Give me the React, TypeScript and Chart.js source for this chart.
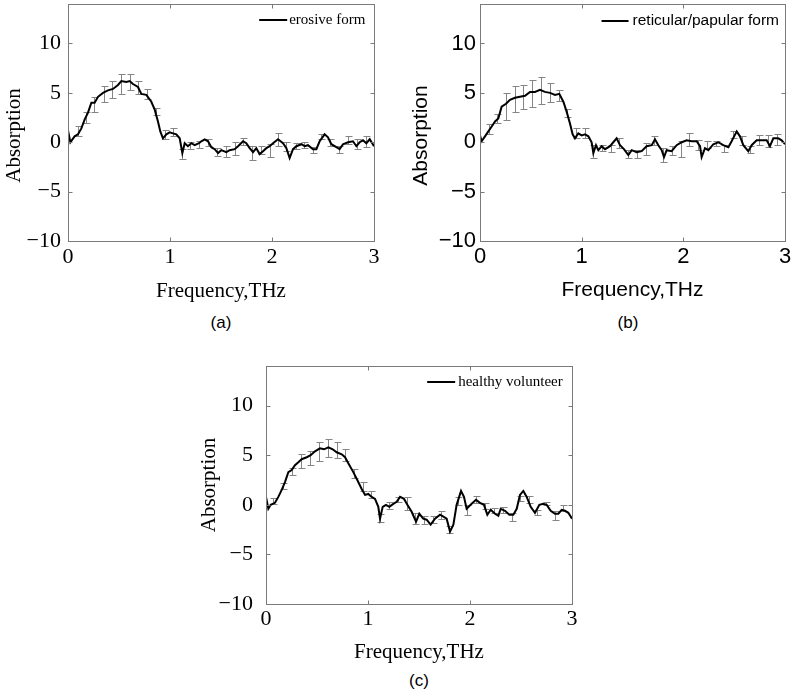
import React, { useEffect, useRef } from 'react';
import { Chart, registerables } from 'chart.js';
Chart.register(...registerables);

// ---------- shared axis data ----------
const xTicks = [0, 1, 2, 3];
const yTicks = [-10, -5, 0, 5, 10];
const xMin = 0, xMax = 3, yMin = -10, yMax = 14;
const xTitle = 'Frequency,THz';
const yTitle = 'Absorption';

// ---------- (a) erosive form ----------
const labelA = 'erosive form';
const freqA = [0.000,0.023,0.065,0.098,0.131,0.163,0.196,0.229,0.261,0.294,0.343,0.392,0.441,0.490,0.523,0.572,0.605,0.637,0.686,0.719,0.768,0.817,0.850,0.882,0.905,0.931,0.964,0.997,1.029,1.062,1.095,1.121,1.144,1.176,1.209,1.242,1.284,1.307,1.340,1.373,1.405,1.438,1.471,1.503,1.552,1.585,1.634,1.667,1.716,1.748,1.781,1.814,1.846,1.879,1.912,1.944,1.977,2.010,2.059,2.108,2.141,2.173,2.206,2.239,2.288,2.320,2.353,2.402,2.435,2.467,2.516,2.549,2.582,2.631,2.663,2.696,2.745,2.794,2.827,2.859,2.892,2.925,2.958,3.000];
const absA = [1.2,0.0,0.6,0.8,1.4,2.3,3.0,4.0,4.0,4.6,5.0,5.25,5.4,5.8,6.2,6.1,6.2,5.9,5.6,4.9,4.8,4.1,3.3,2.1,1.1,0.4,0.8,1.0,0.9,0.8,0.4,-1.1,-0.1,-0.4,-0.1,-0.3,-0.1,0.1,0.3,0.1,-0.5,-0.7,-1.1,-0.8,-1.0,-0.8,-0.7,-0.4,0.1,-0.1,-0.6,-1.0,-0.6,-1.2,-0.9,-0.6,-0.4,-0.1,0.3,-0.1,-0.6,-1.6,-0.7,-0.4,-0.2,-0.4,-0.3,-0.7,-0.7,0.1,0.8,0.5,-0.2,-0.5,-0.7,-0.2,0.0,0.1,-0.4,0.0,0.2,-0.1,0.3,-0.4];
const errXA = [0.098,0.173,0.255,0.350,0.435,0.523,0.611,0.686,0.775,0.859,0.948,1.029,1.121,1.199,1.284,1.373,1.461,1.552,1.634,1.716,1.807,1.895,1.977,2.059,2.141,2.232,2.310,2.402,2.484,2.572,2.657,2.745,2.833,2.918];
const errLoA = [0.6,2.0,3.1,4.1,4.5,4.9,5.3,4.9,4.4,2.8,0.3,0.6,-1.7,-0.7,-0.6,-0.4,-1.4,-1.5,-1.3,-0.3,-1.8,-1.2,-1.5,-0.4,-0.9,-0.7,-0.6,-1.1,0.3,-0.4,-1.1,-0.2,-0.7,-0.5];
const errHiA = [1.6,3.1,4.6,5.7,6.2,6.9,6.9,6.2,5.4,3.5,1.2,1.4,-0.7,0.0,0.1,0.3,-0.6,-0.4,0.0,0.4,-0.4,-0.4,-0.2,0.9,0.0,-0.1,0.0,-0.5,0.8,0.3,-0.4,0.6,0.3,0.6];

// ---------- (b) reticular/papular form ----------
const labelB = 'reticular/papular form';
const freqB = [0.000,0.016,0.049,0.082,0.115,0.148,0.180,0.213,0.256,0.295,0.344,0.393,0.443,0.492,0.541,0.590,0.639,0.689,0.738,0.780,0.820,0.852,0.885,0.911,0.934,0.967,1.000,1.033,1.066,1.098,1.115,1.141,1.164,1.197,1.230,1.279,1.311,1.344,1.377,1.416,1.459,1.492,1.541,1.590,1.639,1.689,1.721,1.754,1.787,1.810,1.836,1.885,1.934,1.984,2.033,2.082,2.131,2.164,2.180,2.213,2.246,2.295,2.344,2.393,2.443,2.475,2.525,2.557,2.590,2.639,2.672,2.721,2.770,2.820,2.852,2.885,2.934,2.967,3.000];
const absB = [0.7,0.1,0.6,1.1,1.6,2.1,2.4,3.6,3.9,4.3,4.5,4.6,4.7,5.1,5.1,5.3,5.1,5.0,4.8,4.9,4.1,3.1,1.9,0.8,0.4,0.9,0.7,0.8,0.6,0.0,-1.1,-0.3,-0.8,-0.4,-0.7,-0.4,0.0,0.4,-0.3,-0.7,-1.3,-0.8,-1.0,-0.9,-0.4,-0.3,0.3,-0.3,-0.8,-1.5,-0.8,-0.9,-0.3,0.0,0.2,0.1,0.1,-0.4,-1.5,-0.6,-0.8,-0.2,0.0,-0.3,-0.5,0.1,1.1,0.6,-0.3,-0.9,-0.3,0.2,0.2,0.2,-0.4,0.4,0.4,0.2,-0.2];
const errXB = [0.092,0.170,0.256,0.344,0.426,0.515,0.600,0.689,0.777,0.859,0.944,1.033,1.115,1.203,1.285,1.370,1.459,1.548,1.630,1.715,1.803,1.885,1.974,2.059,2.148,2.230,2.318,2.403,2.492,2.574,2.656,2.744,2.830,2.918];
const errLoB = [0.8,2.0,2.3,3.1,3.4,3.6,3.9,4.1,4.2,2.6,0.4,0.4,-1.6,-0.9,-1.0,-0.6,-1.6,-1.6,-1.3,-0.3,-2.0,-1.3,-1.5,-0.4,-0.8,-0.6,-0.4,-1.0,0.4,-0.3,-1.1,-0.3,-0.5,-0.3];
const errHiB = [1.8,2.9,5.0,5.7,5.8,6.3,6.6,6.0,5.3,3.4,1.4,1.4,-0.3,-0.3,-0.3,0.4,-0.8,-0.8,-0.1,0.6,-0.6,-0.4,0.1,0.9,0.2,0.1,0.1,-0.3,1.1,0.6,-0.4,0.7,0.7,0.8];

// ---------- (c) healthy volunteer ----------
const labelC = 'healthy volunteer';
const freqC = [0.000,0.023,0.046,0.088,0.121,0.154,0.186,0.219,0.252,0.284,0.317,0.350,0.399,0.438,0.480,0.529,0.569,0.611,0.654,0.693,0.742,0.775,0.807,0.856,0.895,0.938,0.971,1.003,1.036,1.069,1.101,1.118,1.144,1.176,1.209,1.248,1.281,1.314,1.353,1.386,1.428,1.471,1.503,1.542,1.575,1.614,1.657,1.706,1.739,1.771,1.804,1.837,1.869,1.912,1.941,1.967,2.016,2.059,2.098,2.137,2.170,2.203,2.245,2.278,2.301,2.343,2.386,2.425,2.458,2.490,2.523,2.556,2.595,2.637,2.680,2.719,2.752,2.791,2.833,2.866,2.899,2.931,2.964,3.000];
const absC = [0.8,-0.4,0.0,0.2,0.8,1.5,2.3,3.3,3.5,4.0,4.3,4.6,4.8,5.0,5.4,5.7,5.6,5.8,5.6,5.3,5.1,4.8,4.2,3.3,2.5,1.6,1.0,1.1,0.8,0.6,-0.2,-1.4,-0.2,0.0,-0.2,0.1,0.3,0.8,0.6,0.0,-0.7,-1.7,-0.9,-1.4,-1.5,-2.0,-1.4,-1.0,-1.2,-1.4,-2.7,-2.0,0.0,1.4,0.8,-0.4,0.1,0.5,0.2,0.0,-1.0,-0.5,-0.9,-1.1,-0.4,-0.6,-1.0,-1.0,-0.4,1.0,1.4,0.8,-0.2,-0.8,0.0,0.1,0.0,-0.6,-0.9,-0.9,-0.5,-0.6,-0.8,-1.4];
const errXC = [0.072,0.163,0.252,0.340,0.431,0.520,0.605,0.693,0.775,0.866,0.948,1.029,1.118,1.209,1.297,1.379,1.461,1.549,1.634,1.716,1.797,1.886,1.974,2.059,2.147,2.235,2.320,2.408,2.490,2.582,2.660,2.745,2.833,2.915];
const errLoC = [0.1,1.6,3.0,3.7,4.0,4.4,4.8,4.7,4.4,2.7,1.4,0.7,-1.7,-0.4,0.3,-0.5,-1.9,-1.9,-1.8,-1.4,-2.8,0.0,-1.0,0.2,-0.4,-0.8,-0.8,-1.6,0.4,0.2,-1.0,0.0,-1.5,-0.6];
const errHiC = [0.7,2.2,3.7,5.1,5.4,6.3,6.6,6.3,5.6,3.6,2.3,1.4,-0.9,0.3,0.8,0.8,-0.8,-1.1,-1.1,-0.6,-2.1,0.8,0.0,0.9,0.2,-0.3,-0.2,-0.8,0.9,0.9,-0.5,0.3,-0.6,0.0];

const SERIF = '"Liberation Serif", "Times New Roman", serif';
const SANS = '"Liberation Sans", Arial, sans-serif';

const fmt = (v: number) => (v < 0 ? '\u2212' + Math.abs(v) : String(v));

const decoPlugin = {
  id: 'deco',
  beforeDatasetsDraw(chart: any, _a: any, opts: any) {
    const { ctx } = chart;
    const xs = chart.scales.x, ys = chart.scales.y;
    const e = opts.err;
    ctx.save();
    ctx.strokeStyle = '#858585';
    ctx.lineWidth = 1;
    ctx.beginPath();
    for (let i = 0; i < e.x.length; i++) {
      const px = Math.round(xs.getPixelForValue(e.x[i])) + 0.5;
      const pt = Math.round(ys.getPixelForValue(e.hi[i])) + 0.5;
      const pb = Math.round(ys.getPixelForValue(e.lo[i])) + 0.5;
      ctx.moveTo(px, pt); ctx.lineTo(px, pb);
      ctx.moveTo(px - 3, pt); ctx.lineTo(px + 4, pt);
      ctx.moveTo(px - 3, pb); ctx.lineTo(px + 4, pb);
    }
    ctx.stroke();
    ctx.restore();
  },
  afterDatasetsDraw(chart: any, _a: any, opts: any) {
    const { ctx, chartArea: a } = chart;
    const xs = chart.scales.x, ys = chart.scales.y;
    const L = Math.round(a.left) + 0.5, R = Math.round(a.right) + 0.5;
    const T = Math.round(a.top) + 0.5, B = Math.round(a.bottom) + 0.5;
    ctx.save();
    ctx.strokeStyle = '#7a7a7a';
    ctx.lineWidth = 1;
    ctx.strokeRect(L, T, R - L, B - T);
    ctx.beginPath();
    for (const v of xTicks) {
      const px = Math.round(xs.getPixelForValue(v)) + 0.5;
      ctx.moveTo(px, B); ctx.lineTo(px, B - 4);
      ctx.moveTo(px, T); ctx.lineTo(px, T + 4);
    }
    for (const v of yTicks) {
      const py = Math.round(ys.getPixelForValue(v)) + 0.5;
      ctx.moveTo(L, py); ctx.lineTo(L + 4, py);
      ctx.moveTo(R, py); ctx.lineTo(R - 4, py);
    }
    ctx.stroke();
    // y axis title
    const yt = opts.yTitle;
    ctx.save();
    ctx.translate(yt.x, (a.top + a.bottom) / 2 + yt.dy);
    ctx.rotate(-Math.PI / 2);
    ctx.font = `${yt.size}px ${yt.family}`;
    ctx.fillStyle = '#000';
    ctx.textAlign = 'center';
    ctx.textBaseline = 'middle';
    ctx.fillText(yTitle, 0, 0);
    ctx.restore();
    // legend
    const lg = opts.legend;
    const label = chart.data.datasets[0].label;
    ctx.font = `${lg.size}px ${lg.family}`;
    const tw = ctx.measureText(label).width;
    const tx = a.right - lg.rightPad;
    const ty = a.top + lg.dy;
    ctx.fillStyle = '#000';
    ctx.textAlign = 'right';
    ctx.textBaseline = 'middle';
    ctx.fillText(label, tx, ty);
    const lx1 = tx - tw - lg.gap;
    ctx.strokeStyle = '#000';
    ctx.lineWidth = 2;
    ctx.beginPath();
    ctx.moveTo(lx1 - lg.len, Math.round(ty));
    ctx.lineTo(lx1, Math.round(ty));
    ctx.stroke();
    ctx.restore();
  },
};

type PanelProps = {
  left: number; top: number; width: number; height: number;
  pad: { left: number; right: number; top: number; bottom: number };
  yWidth: number; xHeight: number;
  family: string; tickSize: number; titleSize: number;
  xTickPad: number; yTickPad: number;
  yTitleX: number; yTitleDy: number;
  legendSize: number; legendRightPad: number; legendDy: number; legendGap: number; legendLen: number;
  label: string; freq: number[]; abs: number[];
  errX: number[]; errLo: number[]; errHi: number[];
};

function Panel(p: PanelProps) {
  const ref = useRef<HTMLCanvasElement>(null);
  useEffect(() => {
    if (!ref.current) return;
    const chart = new Chart(ref.current, {
      type: 'line',
      data: {
        datasets: [
          {
            label: p.label,
            data: p.freq.map((f, i) => ({ x: f, y: p.abs[i] })),
            borderColor: '#000',
            borderWidth: 2,
            pointRadius: 0,
            fill: false,
            tension: 0,
          },
        ],
      },
      options: {
        responsive: false,
        animation: false,
        events: [],
        layout: { padding: p.pad },
        plugins: {
          legend: { display: false },
          tooltip: { enabled: false },
          deco: {
            err: { x: p.errX, lo: p.errLo, hi: p.errHi },
            yTitle: { x: p.yTitleX, dy: p.yTitleDy, size: p.titleSize, family: p.family },
            legend: { size: p.legendSize, family: p.family, rightPad: p.legendRightPad, dy: p.legendDy, gap: p.legendGap, len: p.legendLen },
          },
        } as any,
        scales: {
          x: {
            type: 'linear',
            min: xMin,
            max: xMax,
            afterBuildTicks: (s: any) => { s.ticks = xTicks.map((v) => ({ value: v })); },
            afterFit: (s: any) => {
              s.height = p.xHeight;
              s.paddingLeft = 0; s.paddingRight = 0; s.paddingTop = 0; s.paddingBottom = 0;
            },
            grid: { display: false, drawTicks: false },
            border: { display: false },
            ticks: {
              font: { family: p.family, size: p.tickSize },
              color: '#000',
              padding: p.xTickPad,
              maxRotation: 0,
              autoSkip: false,
              callback: (v: any) => fmt(Number(v)),
            },
            title: {
              display: true,
              text: xTitle,
              font: { family: p.family, size: p.titleSize },
              color: '#000',
              padding: { top: 0, bottom: 0 },
            },
          },
          y: {
            type: 'linear',
            min: yMin,
            max: yMax,
            afterBuildTicks: (s: any) => { s.ticks = yTicks.map((v) => ({ value: v })); },
            afterFit: (s: any) => {
              s.width = p.yWidth;
              s.paddingLeft = 0; s.paddingRight = 0; s.paddingTop = 0; s.paddingBottom = 0;
            },
            grid: { display: false, drawTicks: false },
            border: { display: false },
            ticks: {
              font: { family: p.family, size: p.tickSize },
              color: '#000',
              padding: p.yTickPad,
              autoSkip: false,
              callback: (v: any) => fmt(Number(v)),
            },
          },
        },
      },
      plugins: [decoPlugin as any],
    });
    return () => chart.destroy();
  }, []);
  return (
    <canvas
      ref={ref}
      width={p.width}
      height={p.height}
      style={{ position: 'absolute', left: p.left, top: p.top, width: p.width, height: p.height }}
    />
  );
}

const panelLabel = (text: string, cx: number, cy: number) => (
  <div
    style={{
      position: 'absolute', left: cx - 30, top: cy - 10, width: 60, height: 20,
      lineHeight: '20px', textAlign: 'center', fontFamily: SANS, fontSize: 17, color: '#000',
    }}
  >
    {text}
  </div>
);

export default function App() {
  return (
    <div style={{ position: 'fixed', left: 0, top: 0, width: 794, height: 694, background: '#fff', overflow: 'hidden' }}>
      <Panel
        left={0} top={0} width={400} height={304}
        pad={{ left: 0, right: 26, top: 4, bottom: 0 }}
        yWidth={68} xHeight={63}
        family={SERIF} tickSize={22} titleSize={21}
        xTickPad={3} yTickPad={7}
        yTitleX={14} yTitleDy={13}
        legendSize={15} legendRightPad={8.6} legendDy={16} legendGap={2} legendLen={28}
        label={labelA} freq={freqA} abs={absA} errX={errXA} errLo={errLoA} errHi={errHiA}
      />
      <Panel
        left={400} top={0} width={394} height={303}
        pad={{ left: 0, right: 9, top: 4, bottom: 0 }}
        yWidth={80} xHeight={62}
        family={SANS} tickSize={22} titleSize={21}
        xTickPad={3} yTickPad={4}
        yTitleX={21} yTitleDy={13}
        legendSize={15.5} legendRightPad={6} legendDy={16.5} legendGap={4} legendLen={27}
        label={labelB} freq={freqB} abs={absB} errX={errXB} errLo={errLoB} errHi={errHiB}
      />
      <Panel
        left={196} top={340} width={400} height={325}
        pad={{ left: 0, right: 24, top: 26, bottom: 0 }}
        yWidth={70} xHeight={61}
        family={SERIF} tickSize={22} titleSize={21}
        xTickPad={2} yTickPad={13}
        yTitleX={13} yTitleDy={0}
        legendSize={15} legendRightPad={9.3} legendDy={16} legendGap={3} legendLen={28}
        label={labelC} freq={freqC} abs={absC} errX={errXC} errLo={errLoC} errHi={errHiC}
      />
      {panelLabel('(a)', 221, 323)}
      {panelLabel('(b)', 628, 323)}
      {panelLabel('(c)', 419, 681)}
    </div>
  );
}
